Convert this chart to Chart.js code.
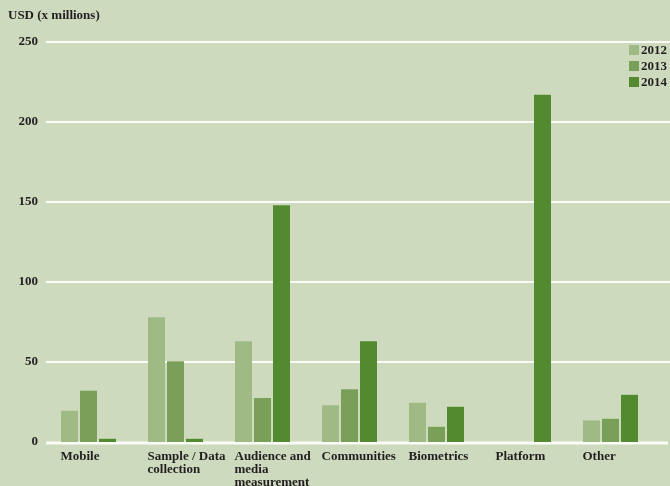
<!DOCTYPE html>
<html>
<head>
<meta charset="utf-8">
<script src="https://cdn.jsdelivr.net/npm/chart.js@4/dist/chart.umd.min.js"></script>
<style>
  html, body { margin: 0; padding: 0; background: #cddabd; }
  #wrap { position: relative; width: 670px; height: 486px; background: #cddabd; overflow: hidden; }
  #c { position: absolute; left: 0; top: 0; }
  .txt { font-family: "Liberation Serif", "DejaVu Serif", serif; font-weight: bold; font-size: 13px; color: #231f20; }
  #ytitle { position: absolute; left: 8px; top: 7px; line-height: 16px; white-space: nowrap; }
  #legend { position: absolute; left: 629px; top: 42.5px; }
  .lrow { display: flex; align-items: center; height: 15.75px; white-space: nowrap; }
  .lbox { width: 10px; height: 10px; margin-right: 2px; }
</style>
</head>
<body>
<div id="wrap">
  <canvas id="c" width="670" height="486"></canvas>
  <div id="ytitle" class="txt">USD (x millions)</div>
  <div id="legend" class="txt"></div>
</div>
<script>
const categories = [
  "Mobile",
  ["Sample / Data", "collection"],
  ["Audience and", "media", "measurement"],
  "Communities",
  "Biometrics",
  "Platform",
  "Other"
];
const seriesNames = ["2012", "2013", "2014"];
const values2012 = [19.5, 78, 63, 23, 24.5, 0, 13.5];
const values2013 = [32, 50.5, 27.5, 33, 9.5, 0, 14.5];
const values2014 = [2, 2, 148, 63, 22, 217, 29.5];
const seriesColors = ["#9fba84", "#7a9f58", "#538a30"];

const FONT = "'Liberation Serif', 'DejaVu Serif', serif";
const TEXT = "#231f20";

const gridPlugin = {
  id: 'extGrid',
  beforeDatasetsDraw(chart) {
    const ctx = chart.ctx;
    const ys = chart.scales.y;
    const left = chart.chartArea.left + 1;
    const right = chart.width;
    ctx.save();
    ctx.strokeStyle = '#fbfcf7';
    ys.ticks.forEach(t => {
      const y = ys.getPixelForValue(t.value);
      ctx.beginPath();
      if (t.value === 0) {
        ctx.lineWidth = 3;
        ctx.moveTo(left, y + 1);
        ctx.lineTo(right - 2, y + 1);
      } else {
        ctx.lineWidth = 2;
        ctx.moveTo(left, y);
        ctx.lineTo(right, y);
      }
      ctx.stroke();
    });
    ctx.restore();
  }
};

const datasets = [values2012, values2013, values2014].map((vals, i) => ({
  label: seriesNames[i],
  data: vals,
  backgroundColor: seriesColors[i],
  borderWidth: 0,
  categoryPercentage: 57 / 87,
  barPercentage: 17 / 19
}));

const chart = new Chart(document.getElementById('c'), {
  type: 'bar',
  data: { labels: categories, datasets },
  plugins: [gridPlugin],
  options: {
    responsive: false,
    animation: false,
    devicePixelRatio: 1,
    layout: { padding: { top: 42, right: 16, bottom: 0, left: 0 } },
    plugins: {
      legend: { display: false },
      tooltip: { enabled: false },
      title: { display: false }
    },
    scales: {
      x: {
        grid: { display: false, drawTicks: false },
        border: { display: false },
        ticks: {
          autoSkip: false,
          maxRotation: 0,
          minRotation: 0,
          align: 'start',
          labelOffset: -28,
          padding: 8,
          color: TEXT,
          font: { family: FONT, size: 13, weight: 'bold', lineHeight: 1.0 }
        },
        afterFit(scale) { scale.height = 44; }
      },
      y: {
        min: 0,
        max: 250,
        grid: { display: false, drawTicks: false },
        border: { display: false },
        ticks: {
          stepSize: 50,
          padding: 7,
          color: TEXT,
          font: { family: FONT, size: 13, weight: 'bold' }
        },
        afterFit(scale) { scale.width = 45; }
      }
    }
  }
});

const leg = document.getElementById('legend');
chart.data.datasets.forEach(ds => {
  const row = document.createElement('div');
  row.className = 'lrow';
  const box = document.createElement('div');
  box.className = 'lbox';
  box.style.background = ds.backgroundColor;
  const lab = document.createElement('span');
  lab.textContent = ds.label;
  row.appendChild(box);
  row.appendChild(lab);
  leg.appendChild(row);
});
</script>
</body>
</html>
